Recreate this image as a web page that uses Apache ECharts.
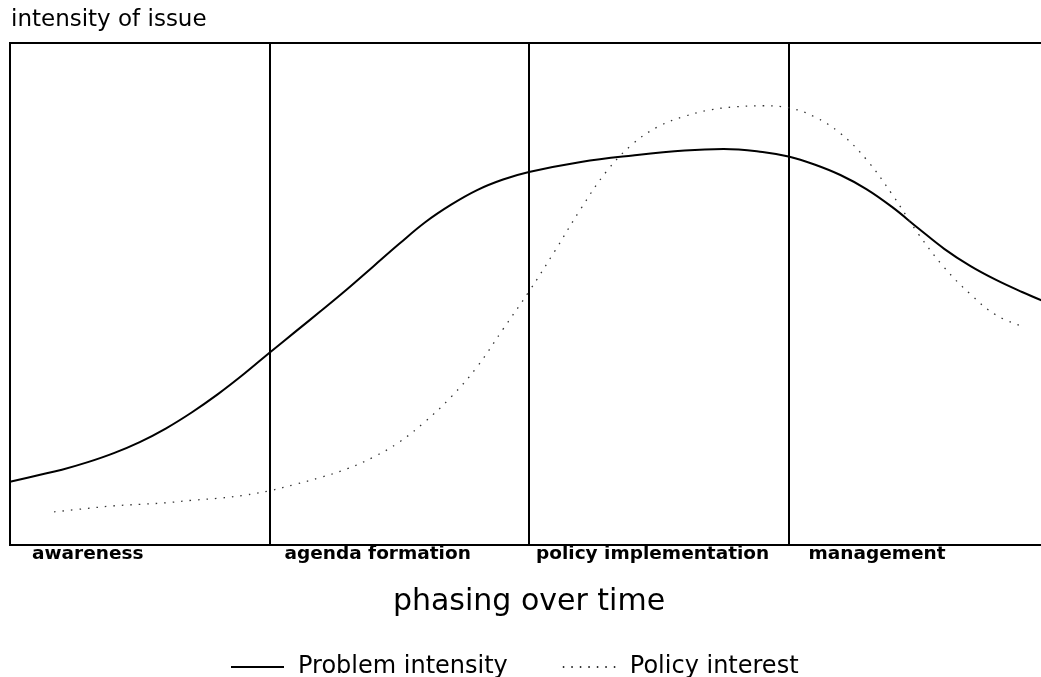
<!DOCTYPE html>
<html>
<head>
<meta charset="utf-8">
<script src="https://cdn.jsdelivr.net/npm/echarts@6/dist/echarts.min.js"></script>
<style>
  html, body { margin: 0; padding: 0; background: #fff; }
  #main { width: 1041px; height: 677px; }
</style>
</head>
<body>
<div id="main"></div>
<script>
var myChart = echarts.init(document.getElementById("main"));

// phases along the time axis (each phase is one unit wide)
var phases = ['awareness', 'agenda formation', 'policy implementation', 'management'];
var phaseStarts = [0, 1, 2, 3];

// [time, intensity]
var problemIntensity = [
  [0, 12.6], [0.1, 13.8], [0.2, 15.0], [0.3, 16.5], [0.4, 18.3],
  [0.5, 20.5], [0.6, 23.2], [0.7, 26.4], [0.8, 30.0], [0.9, 34.0],
  [1.0, 38.3], [1.1, 42.5], [1.2, 46.7], [1.3, 51.0], [1.4, 55.5],
  [1.5, 60.0], [1.6, 64.3], [1.7, 67.8], [1.8, 70.7], [1.9, 72.8],
  [2.0, 74.3], [2.2, 76.3], [2.4, 77.6], [2.6, 78.6], [2.75, 78.9],
  [2.9, 78.3], [3.0, 77.4], [3.1, 75.8], [3.2, 73.7], [3.3, 70.9],
  [3.4, 67.3], [3.5, 63.1], [3.6, 59.0], [3.7, 55.6], [3.8, 52.8],
  [3.9, 50.4], [4.0, 48.2]
];
var policyInterest = [
  [0.17, 6.6], [0.3, 7.3], [0.4, 7.8], [0.5, 8.1], [0.6, 8.4],
  [0.7, 8.9], [0.8, 9.3], [0.9, 9.9], [1.0, 10.8], [1.1, 12.1],
  [1.2, 13.5], [1.3, 15.2], [1.4, 17.5], [1.5, 20.5], [1.6, 24.6],
  [1.7, 29.5], [1.8, 35.5], [1.9, 43.0], [2.0, 50.5], [2.1, 58.6],
  [2.2, 67.0], [2.3, 74.5], [2.4, 79.9], [2.5, 83.4], [2.6, 85.4],
  [2.7, 86.7], [2.8, 87.3], [2.9, 87.5], [3.0, 87.1], [3.1, 85.3],
  [3.2, 82.0], [3.3, 76.8], [3.4, 69.8], [3.5, 62.0], [3.6, 55.3],
  [3.7, 50.0], [3.8, 45.8], [3.9, 43.6]
];

var font = 'DejaVu Sans';
// per-phase label offsets from the phase start line
var labelRich = {
  p0: { padding: [0, 0, 0, 22] },
  p1: { padding: [0, 0, 0, 15] },
  p2: { padding: [0, 0, 0, 7] },
  p3: { padding: [0, 0, 0, 20] }
};
for (var k in labelRich) {
  labelRich[k].fontFamily = font;
  labelRich[k].fontSize = 18.5;
  labelRich[k].fontWeight = 'bold';
  labelRich[k].color = '#000';
}

var option = {
  animation: false,
  textStyle: { fontFamily: font, color: '#000' },
  title: {
    text: 'intensity of issue',
    left: 11,
    top: 9,
    padding: 0,
    textStyle: { fontFamily: font, fontSize: 23, fontWeight: 'normal', color: '#000' }
  },
  legend: {
    top: 649,
    left: 225,
    itemWidth: 53,
    itemHeight: 14,
    itemGap: 54,
    itemStyle: { opacity: 0, borderWidth: 0 },
    textStyle: { fontFamily: font, fontSize: 24, lineHeight: 26, color: '#000', padding: [0, 0, 0, 9] },
    data: ['Problem intensity', 'Policy interest']
  },
  grid: {
    left: 10,
    top: 43,
    width: 1038,
    height: 502,
    outerBoundsMode: 'none',
    show: true,
    borderColor: '#000',
    borderWidth: 2,
    backgroundColor: 'transparent'
  },
  xAxis: {
    type: 'value',
    min: 0,
    max: 4,
    interval: 1,
    name: 'phasing over time',
    nameLocation: 'middle',
    nameGap: 42,
    nameTextStyle: { fontFamily: font, fontSize: 30, color: '#000' },
    axisLine: { show: true, lineStyle: { color: '#000', width: 2 } },
    axisTick: { show: false },
    splitLine: { show: true, lineStyle: { color: '#000', width: 2 } },
    axisLabel: {
      customValues: phaseStarts,
      align: 'left',
      verticalAlign: 'middle',
      margin: 9,
      fontFamily: font,
      fontSize: 18.5,
      fontWeight: 'bold',
      color: '#000',
      rich: labelRich,
      formatter: function (v) {
        var i = Math.round(v);
        return phases[i] ? '{p' + i + '|' + phases[i] + '}' : '';
      }
    }
  },
  yAxis: {
    type: 'value',
    min: 0,
    max: 100,
    axisLine: { show: true, lineStyle: { color: '#000', width: 2 } },
    axisTick: { show: false },
    axisLabel: { show: false },
    splitLine: { show: false }
  },
  series: [{
    name: 'Problem intensity',
    type: 'line',
    smooth: 0.4,
    showSymbol: false,
    symbol: 'none',
    itemStyle: { color: '#000' },
    lineStyle: { color: '#000', width: 2 },
    data: problemIntensity
  }, {
    name: 'Policy interest',
    type: 'line',
    smooth: 0.4,
    showSymbol: false,
    symbol: 'none',
    itemStyle: { color: '#333' },
    lineStyle: { color: '#333', width: 1.3, type: [1.5, 7] },
    data: policyInterest
  }]
};
myChart.setOption(option);
</script>
</body>
</html>
